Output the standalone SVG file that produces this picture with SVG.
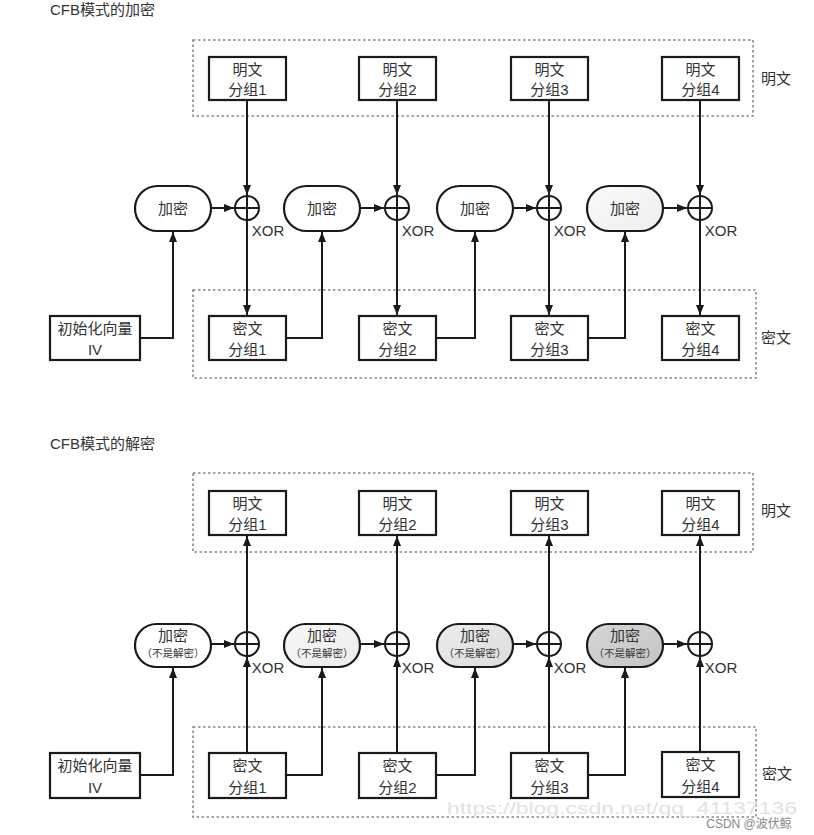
<svg xmlns="http://www.w3.org/2000/svg" width="814" height="835" viewBox="0 0 814 835">
<defs>
<style>
text{font-family:"Liberation Sans","Noto Sans CJK SC",sans-serif;fill:#333;text-anchor:middle;dominant-baseline:central}
.t{font-size:15px}
.title{font-size:15px;text-anchor:start}
.sm{font-size:10.5px}
.box{fill:#fff;stroke:#1a1a1a;stroke-width:2.2}
.grp{fill:none;stroke:#888;stroke-width:1.6;stroke-dasharray:2.5 2.5}
.ov{stroke:#1a1a1a;stroke-width:2.2}
.xc{fill:#fff;stroke:#1a1a1a;stroke-width:2}
.ln{fill:none;stroke:#1a1a1a;stroke-width:2}
.arr{fill:none;stroke:#1a1a1a;stroke-width:2;marker-end:url(#ah)}
</style>
<marker id="ah" markerUnits="userSpaceOnUse" markerWidth="10" markerHeight="10" viewBox="0 0 10 10" refX="10" refY="5" orient="auto">
<path d="M0,1 L10,5 L0,9 Z" fill="#1a1a1a"/>
</marker>
<linearGradient id="g4" x1="0" y1="0" x2="1" y2="1"><stop offset="0" stop-color="#fafafa"/><stop offset="1" stop-color="#efefef"/></linearGradient>
<linearGradient id="d2" x1="0" y1="0" x2="1" y2="1"><stop offset="0" stop-color="#f8f8f8"/><stop offset="1" stop-color="#ececec"/></linearGradient>
<linearGradient id="d3" x1="0" y1="0" x2="1" y2="1"><stop offset="0" stop-color="#ececec"/><stop offset="1" stop-color="#dcdcdc"/></linearGradient>
<linearGradient id="d4" x1="0" y1="0" x2="1" y2="1"><stop offset="0" stop-color="#d6d6d6"/><stop offset="1" stop-color="#c4c4c4"/></linearGradient>
</defs>
<rect width="814" height="835" fill="#fff"/>

<!-- ============ ENCRYPTION ============ -->
<text class="title" x="50" y="9">CFB模式的加密</text>
<rect class="grp" x="193" y="40" width="560" height="76"/>
<rect class="grp" x="193" y="290" width="563" height="88"/>
<text class="t" x="776" y="78">明文</text>
<text class="t" x="776" y="337">密文</text>

<g id="e-p1"><rect class="box" x="209" y="57" width="77" height="43"/><text class="t" x="247.5" y="69">明文</text><text class="t" x="247.5" y="89">分组1</text></g>
<g id="e-p2"><rect class="box" x="359" y="57" width="77" height="43"/><text class="t" x="397.5" y="69">明文</text><text class="t" x="397.5" y="89">分组2</text></g>
<g id="e-p3"><rect class="box" x="511" y="57" width="77" height="43"/><text class="t" x="549.5" y="69">明文</text><text class="t" x="549.5" y="89">分组3</text></g>
<g id="e-p4"><rect class="box" x="662" y="57" width="77" height="43"/><text class="t" x="700.5" y="69">明文</text><text class="t" x="700.5" y="89">分组4</text></g>

<g id="e-e1"><rect class="ov" fill="#fff" x="135" y="186" width="76" height="45" rx="22.5"/><text class="t" x="173" y="208.5">加密</text></g>
<g id="e-e2"><rect class="ov" fill="#fff" x="284" y="186" width="76" height="45" rx="22.5"/><text class="t" x="322" y="208.5">加密</text></g>
<g id="e-e3"><rect class="ov" fill="#fff" x="437" y="186" width="76" height="45" rx="22.5"/><text class="t" x="475" y="208.5">加密</text></g>
<g id="e-e4"><rect class="ov" fill="url(#g4)" x="587" y="186" width="76" height="45" rx="22.5"/><text class="t" x="625" y="208.5">加密</text></g>

<g id="e-x1"><circle class="xc" cx="247" cy="208" r="12"/><path class="ln" d="M235,208H259M247,196V220"/><text class="t" x="268" y="230">XOR</text></g>
<g id="e-x2"><circle class="xc" cx="397" cy="208" r="12"/><path class="ln" d="M385,208H409M397,196V220"/><text class="t" x="418" y="230">XOR</text></g>
<g id="e-x3"><circle class="xc" cx="549" cy="208" r="12"/><path class="ln" d="M537,208H561M549,196V220"/><text class="t" x="570" y="230">XOR</text></g>
<g id="e-x4"><circle class="xc" cx="700" cy="208" r="12"/><path class="ln" d="M688,208H712M700,196V220"/><text class="t" x="721" y="230">XOR</text></g>

<g id="e-iv"><rect class="box" x="50" y="316" width="90" height="44"/><text class="t" x="95" y="328">初始化向量</text><text class="t" x="95" y="349">IV</text></g>
<g id="e-c1"><rect class="box" x="209" y="316" width="77" height="44"/><text class="t" x="247.5" y="328">密文</text><text class="t" x="247.5" y="349">分组1</text></g>
<g id="e-c2"><rect class="box" x="359" y="316" width="77" height="44"/><text class="t" x="397.5" y="328">密文</text><text class="t" x="397.5" y="349">分组2</text></g>
<g id="e-c3"><rect class="box" x="511" y="316" width="77" height="44"/><text class="t" x="549.5" y="328">密文</text><text class="t" x="549.5" y="349">分组3</text></g>
<g id="e-c4"><rect class="box" x="662" y="316" width="77" height="44"/><text class="t" x="700.5" y="328">密文</text><text class="t" x="700.5" y="349">分组4</text></g>

<g id="e-connectors">
<path class="arr" d="M247,100V195"/>
<path class="arr" d="M397,100V195"/>
<path class="arr" d="M549,100V195"/>
<path class="arr" d="M700,100V195"/>
<path class="arr" d="M211,208H234"/>
<path class="arr" d="M360,208H384"/>
<path class="arr" d="M513,208H536"/>
<path class="arr" d="M663,208H687"/>
<path class="arr" d="M247,220V315"/>
<path class="arr" d="M397,220V315"/>
<path class="arr" d="M549,220V315"/>
<path class="arr" d="M700,220V315"/>
<path class="arr" d="M140,338H173V232"/>
<path class="arr" d="M286,338H322V232"/>
<path class="arr" d="M436,338H475V232"/>
<path class="arr" d="M588,338H625V232"/>
</g>

<!-- ============ DECRYPTION ============ -->
<text class="title" x="50" y="443">CFB模式的解密</text>
<rect class="grp" x="193" y="473" width="560" height="79"/>
<rect class="grp" x="193" y="727" width="563" height="90"/>
<text class="t" x="776" y="510">明文</text>
<text class="t" x="777" y="773">密文</text>

<g id="d-p1"><rect class="box" x="209" y="491" width="77" height="44"/><text class="t" x="247.5" y="503">明文</text><text class="t" x="247.5" y="524">分组1</text></g>
<g id="d-p2"><rect class="box" x="359" y="491" width="77" height="44"/><text class="t" x="397.5" y="503">明文</text><text class="t" x="397.5" y="524">分组2</text></g>
<g id="d-p3"><rect class="box" x="511" y="491" width="77" height="44"/><text class="t" x="549.5" y="503">明文</text><text class="t" x="549.5" y="524">分组3</text></g>
<g id="d-p4"><rect class="box" x="662" y="491" width="77" height="44"/><text class="t" x="700.5" y="503">明文</text><text class="t" x="700.5" y="524">分组4</text></g>

<g id="d-e1"><rect class="ov" fill="#fff" x="135" y="624" width="76" height="43" rx="21.5"/><text class="t" x="173" y="635">加密</text><text class="sm" x="173" y="653">（不是解密）</text></g>
<g id="d-e2"><rect class="ov" fill="url(#d2)" x="284" y="624" width="76" height="43" rx="21.5"/><text class="t" x="322" y="635">加密</text><text class="sm" x="322" y="653">（不是解密）</text></g>
<g id="d-e3"><rect class="ov" fill="url(#d3)" x="437" y="624" width="76" height="43" rx="21.5"/><text class="t" x="475" y="635">加密</text><text class="sm" x="475" y="653">（不是解密）</text></g>
<g id="d-e4"><rect class="ov" fill="url(#d4)" x="587" y="624" width="76" height="43" rx="21.5"/><text class="t" x="625" y="635">加密</text><text class="sm" x="625" y="653">（不是解密）</text></g>

<g id="d-x1"><circle class="xc" cx="247" cy="644" r="12"/><path class="ln" d="M235,644H259M247,632V656"/><text class="t" x="268" y="667">XOR</text></g>
<g id="d-x2"><circle class="xc" cx="397" cy="644" r="12"/><path class="ln" d="M385,644H409M397,632V656"/><text class="t" x="418" y="667">XOR</text></g>
<g id="d-x3"><circle class="xc" cx="549" cy="644" r="12"/><path class="ln" d="M537,644H561M549,632V656"/><text class="t" x="570" y="667">XOR</text></g>
<g id="d-x4"><circle class="xc" cx="700" cy="644" r="12"/><path class="ln" d="M688,644H712M700,632V656"/><text class="t" x="721" y="667">XOR</text></g>

<g id="d-iv"><rect class="box" x="50" y="753" width="90" height="45"/><text class="t" x="95" y="765">初始化向量</text><text class="t" x="95" y="787">IV</text></g>
<g id="d-c1"><rect class="box" x="209" y="753" width="77" height="45"/><text class="t" x="247.5" y="765">密文</text><text class="t" x="247.5" y="787">分组1</text></g>
<g id="d-c2"><rect class="box" x="359" y="753" width="77" height="45"/><text class="t" x="397.5" y="765">密文</text><text class="t" x="397.5" y="787">分组2</text></g>
<g id="d-c3"><rect class="box" x="511" y="753" width="77" height="45"/><text class="t" x="549.5" y="765">密文</text><text class="t" x="549.5" y="787">分组3</text></g>
<g id="d-c4"><rect class="box" x="662" y="752" width="77" height="45"/><text class="t" x="700.5" y="764">密文</text><text class="t" x="700.5" y="786">分组4</text></g>

<g id="d-connectors">
<path class="arr" d="M247,632V536"/>
<path class="arr" d="M397,632V536"/>
<path class="arr" d="M549,632V536"/>
<path class="arr" d="M700,632V536"/>
<path class="arr" d="M211,644H234"/>
<path class="arr" d="M360,644H384"/>
<path class="arr" d="M513,644H536"/>
<path class="arr" d="M663,644H687"/>
<path class="arr" d="M247,753V657"/>
<path class="arr" d="M397,753V657"/>
<path class="arr" d="M549,753V657"/>
<path class="arr" d="M700,752V657"/>
<path class="arr" d="M140,775H173V668"/>
<path class="arr" d="M286,775H322V668"/>
<path class="arr" d="M436,775H475V668"/>
<path class="arr" d="M588,775H625V668"/>
</g>

<!-- watermark -->
<text x="622" y="808" textLength="350" lengthAdjust="spacingAndGlyphs" style="font-size:17px;fill:#e2e2e2">https://blog.csdn.net/qq_41137136</text>
<text x="749" y="824" style="font-size:12px;fill:#888">CSDN @波伏鲸</text>
</svg>
